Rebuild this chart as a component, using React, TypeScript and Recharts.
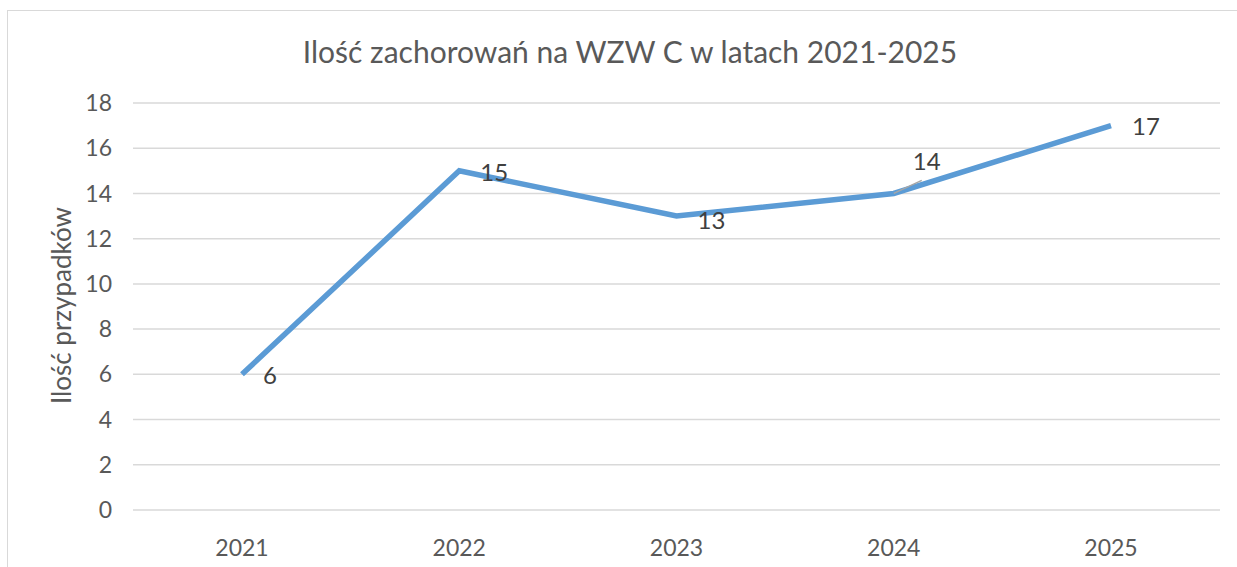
import React from "react";
import { LineChart, Line, XAxis, YAxis, CartesianGrid, LabelList } from "recharts";

const years = ["2021", "2022", "2023", "2024", "2025"];
const cases = [6, 15, 13, 14, 17];
const yTicks = [0, 2, 4, 6, 8, 10, 12, 14, 16, 18];

const title = "Ilość zachorowań na WZW C w latach 2021-2025";
const yLabel = "Ilość przypadków";

const lineColor = "#5b9bd5";
const textColor = "#595959";
const gridColor = "#d9d9d9";
const font = "Lato, 'Open Sans', sans-serif";

const data = years.map((year, i) => ({ year, cases: cases[i] }));

// excel put "14" above its point with a leader line, the rest sit to the right
function DataLabel(props: any) {
  const { x, y, value, index } = props;
  if (index === 3) {
    return (
      <g>
        <line x1={x} y1={y} x2={x + 28} y2={y - 13} stroke="#a6a6a6" strokeWidth={1.5} />
        <text x={x + 33} y={y - 33} fill="#404040" fontSize={24} fontFamily={font} textAnchor="middle" dominantBaseline="central">
          {value}
        </text>
      </g>
    );
  }
  const dy = index === 2 ? 3 : index === 1 ? 1 : 0;
  return (
    <text x={x + 21} y={y + dy} fill="#404040" fontSize={24} fontFamily={font} textAnchor="start" dominantBaseline="central">
      {value}
    </text>
  );
}

export default function App() {
  return (
    <div style={{ position: "relative", width: 1237, height: 567, overflow: "hidden", background: "#fff" }}>
      <style>{"body{margin:0}"}</style>
      <div
        style={{
          position: "absolute",
          left: 7,
          top: 10,
          width: 1260,
          height: 600,
          border: "1.5px solid " + gridColor,
          boxSizing: "border-box"
        }}
      />
      <div
        style={{
          position: "absolute",
          left: 0,
          top: 31,
          width: 1260,
          textAlign: "center",
          fontFamily: font,
          fontSize: 30,
          color: textColor,
          lineHeight: "40px"
        }}
      >
        {title}
      </div>
      <div style={{ position: "absolute", left: 0, top: 0 }}>
        <LineChart
          width={1237}
          height={567}
          data={data}
          margin={{ top: 103, right: 17, left: 0, bottom: 0 }}
        >
          <CartesianGrid vertical={false} stroke={gridColor} strokeWidth={1.5} />
          <XAxis
            dataKey="year"
            height={57}
            padding={{ left: 109, right: 109 }}
            axisLine={false}
            tickLine={false}
            tickSize={0}
            tickMargin={30}
            tick={{ fill: textColor, fontSize: 23, fontFamily: font }}
          />
          <YAxis
            width={133}
            domain={[0, 18]}
            ticks={yTicks}
            interval={0}
            axisLine={false}
            tickLine={false}
            tickSize={0}
            tickMargin={21}
            tick={{ fill: textColor, fontSize: 23, fontFamily: font }}
            label={{
              value: yLabel,
              angle: -90,
              position: "center",
              dx: -5,
              dy: -1,
              fill: textColor,
              fontSize: 26,
              fontFamily: font
            }}
          />
          <Line
            isAnimationActive={false}
            type="linear"
            dataKey="cases"
            stroke={lineColor}
            strokeWidth={5.5}
            dot={false}
            activeDot={false}
          >
            <LabelList dataKey="cases" content={<DataLabel />} />
          </Line>
        </LineChart>
      </div>
    </div>
  );
}
